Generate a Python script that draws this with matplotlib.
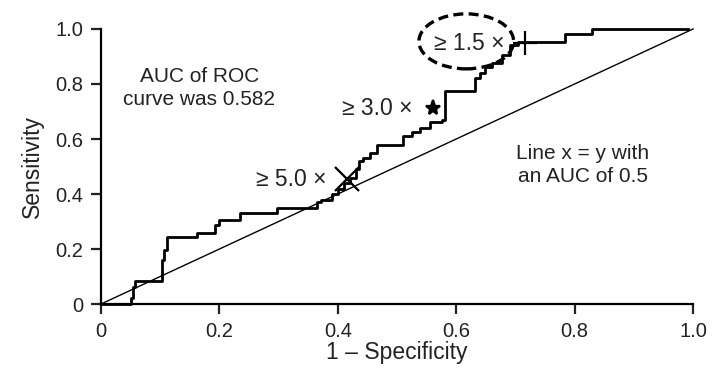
import matplotlib
matplotlib.use('Agg')
import matplotlib.pyplot as plt
from matplotlib.patches import Ellipse

plt.rcParams['font.family'] = ['Liberation Sans', 'DejaVu Sans']

# ROC curve corners (1 - specificity, sensitivity), drawn as steps-post
fpr = [0.0, 0.051, 0.054, 0.057, 0.103, 0.106, 0.111, 0.162, 0.193, 0.200,
       0.235, 0.297, 0.365, 0.372, 0.390, 0.400, 0.410, 0.420, 0.430, 0.436,
       0.443, 0.455, 0.466, 0.510, 0.525, 0.539, 0.556, 0.576, 0.581, 0.632,
       0.640, 0.649, 0.660, 0.677, 0.691, 0.704, 0.784, 0.829, 0.992]
tpr = [0.0, 0.022, 0.062, 0.084, 0.160, 0.196, 0.244, 0.258, 0.287, 0.305,
       0.330, 0.350, 0.370, 0.380, 0.400, 0.420, 0.440, 0.460, 0.490, 0.520,
       0.530, 0.550, 0.578, 0.610, 0.625, 0.640, 0.660, 0.670, 0.775, 0.820,
       0.840, 0.860, 0.875, 0.905, 0.940, 0.953, 0.980, 1.000, 1.000]

# cut-off points on the curve
cut_labels = ['\u2265 5.0 \u00d7', '\u2265 3.0 \u00d7', '\u2265 1.5 \u00d7']
cut_x = [0.416, 0.561, 0.716]
cut_y = [0.455, 0.712, 0.950]
cut_markers = ['x', '*', '+']

xticks = [0, 0.2, 0.4, 0.6, 0.8, 1.0]
xticklabels = ['0', '0.2', '0.4', '0.6', '0.8', '1.0']
yticks = [0, 0.2, 0.4, 0.6, 0.8, 1.0]
yticklabels = ['0', '0.2', '0.4', '0.6', '0.8', '1.0']

fig = plt.figure(figsize=(7.18, 3.84), dpi=100)
ax = fig.add_axes([0.1407, 0.2083, 0.8245, 0.7162])

ax.plot([0, 1], [0, 1], color='black', lw=1.0, clip_on=False)
ax.plot(fpr, tpr, drawstyle='steps-post', color='black', lw=2.0, clip_on=False)

msize = [17, 11, 17]
for i in range(3):
    ax.plot(cut_x[i], cut_y[i], marker=cut_markers[i], color='black',
            markersize=msize[i], mew=1.6, linestyle='none', clip_on=False)
    ax.text(cut_x[i] - 0.035, cut_y[i] - 0.002, cut_labels[i], ha='right', va='center',
            fontsize=16.5, color='#222222')

ax.add_patch(Ellipse((0.617, 0.955), 0.16, 0.2, fill=False, lw=2.4,
                     linestyle=(0, (3, 1.6)), color='black', clip_on=False))

ax.text(0.166, 0.785, 'AUC of ROC\ncurve was 0.582', ha='center', va='center',
        fontsize=15, color='#222222', linespacing=1.3)
ax.text(0.814, 0.505, 'Line x = y with\nan AUC of 0.5', ha='center', va='center',
        fontsize=15, color='#222222', linespacing=1.3)

ax.set_xlim(0, 1)
ax.set_ylim(0, 1)
ax.set_xticks(xticks)
ax.set_xticklabels(xticklabels)
ax.set_yticks(yticks)
ax.set_yticklabels(yticklabels)
ax.spines['top'].set_visible(False)
ax.spines['right'].set_visible(False)
ax.spines['left'].set_linewidth(1.6)
ax.spines['bottom'].set_linewidth(1.6)
ax.tick_params(direction='out', length=7, width=1.6, labelsize=14.5, colors='#222222', pad=6)
ax.set_xlabel('1 \u2013 Specificity', fontsize=16.5, color='#222222', labelpad=0)
ax.set_ylabel('Sensitivity', fontsize=16.5, color='#222222', labelpad=8)

plt.savefig('out.png', dpi=100)
